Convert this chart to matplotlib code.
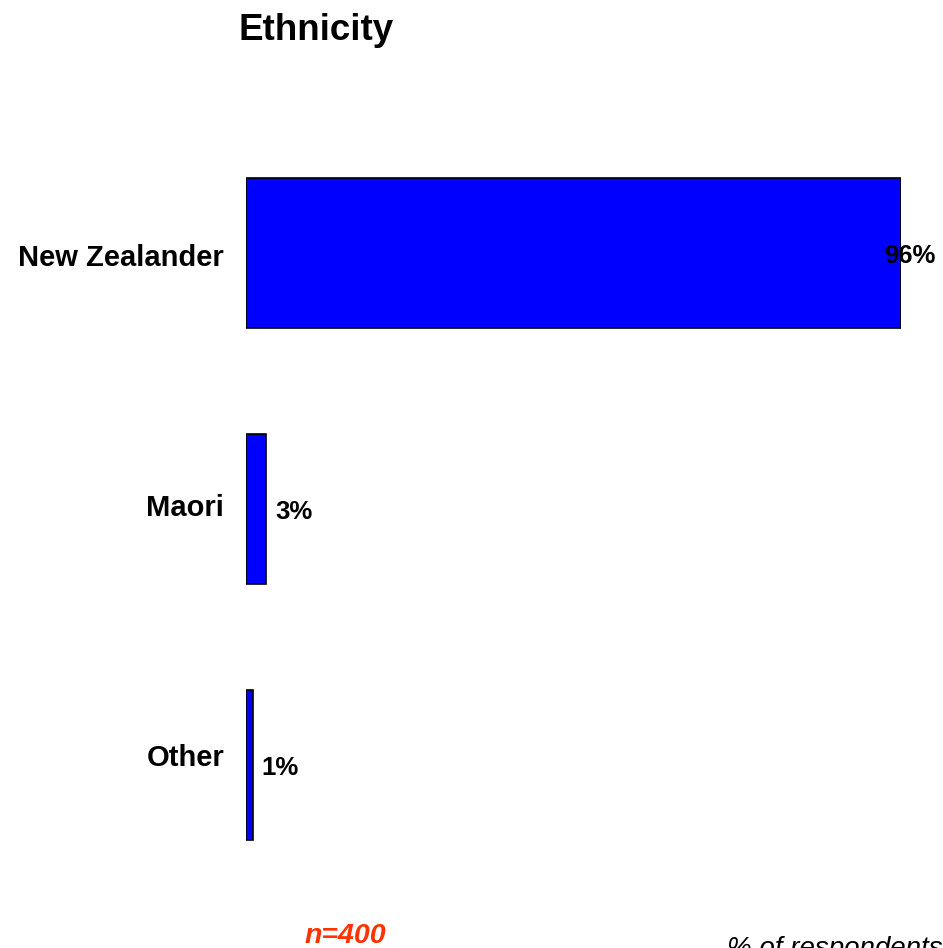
import matplotlib.pyplot as plt

# Data
categories = ['New Zealander', 'Maori', 'Other']
values = [96, 3, 1]
value_labels = ['96%', '3%', '1%']
title = 'Ethnicity'
sample_note = 'n=400'
axis_note = '% of respondents'

plt.rcParams['font.family'] = ['Liberation Sans', 'DejaVu Sans']

fig = plt.figure(figsize=(9.43, 9.48), dpi=100)
ax = fig.add_axes([246 / 943, 55 / 948, 655 / 943, 768 / 948])

pos = list(range(len(categories)))
ax.barh(pos, values, height=0.586, color='#0000FF', edgecolor='black', linewidth=1.2)
ax.set_xlim(0, 96)
ax.set_ylim(2.5, -0.5)

# category labels (spaced a little tighter than the bars)
for p, c in zip(pos, categories):
    ax.text(-3.2, p * 0.977 + 0.051, c, ha='right', va='baseline',
            fontsize=21, fontweight='bold')

# value labels
for p, v, lab in zip(pos, values, value_labels):
    if v > 90:
        x = v - 2.5
    else:
        x = v + 1.3
    ax.text(x, p + 0.01, lab, ha='left', va='center', fontsize=18.5, fontweight='bold')

ax.axis('off')

fig.text(238 / 943, 1 - 40 / 948, title, ha='left', va='baseline', fontsize=26.5, fontweight='bold')
fig.text(305 / 943, 1 - 936 / 948, sample_note, ha='left', va='center', fontsize=20.5,
         fontweight='bold', fontstyle='italic', color='#FF3300')
fig.text(727 / 943, 1 - 949 / 948, axis_note, ha='left', va='center', fontsize=20,
         fontstyle='italic')

fig.savefig('out.png', dpi=100)
